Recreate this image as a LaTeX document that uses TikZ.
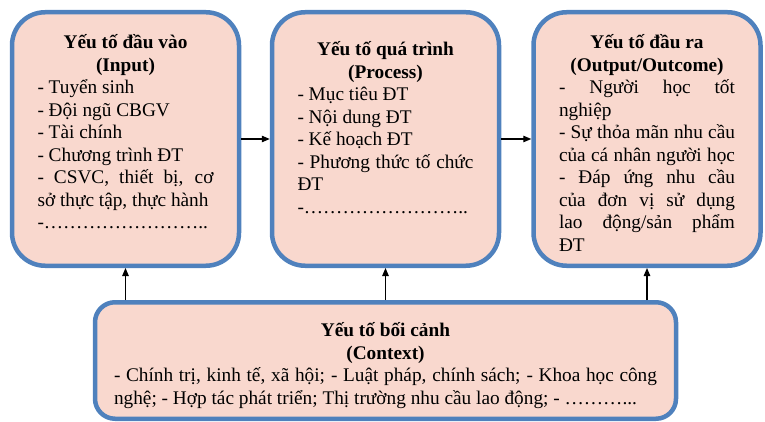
\documentclass[tikz,border=0pt]{standalone}
\usepackage{fontspec}
\setmainfont{Liberation Serif}
\usepackage{tikz}
\usetikzlibrary{arrows.meta}

\definecolor{factorblue}{RGB}{79,129,189}
\definecolor{factorfill}{RGB}{249,216,206}
\newcommand{\spreadline}[1]{\makebox[\linewidth][s]{#1}}
\newcommand{\headline}[1]{\makebox[\linewidth]{\bfseries #1}}
\newcommand{\firstline}{\rule{0pt}{20pt}}

\begin{document}
\begin{tikzpicture}[x=1pt, y=-1pt,
  >={Triangle[length=8pt,width=6.5pt]},
  factor/.style={draw=factorblue, fill=factorfill, line width=4.5pt,
    rounded corners=33pt, inner sep=0pt, minimum width=227pt,
    minimum height=253.5pt, font=\fontsize{19.3}{22.5}\selectfont},
  context/.style={factor, rounded corners=20pt, minimum width=581pt,
    minimum height=116.5pt}]
\useasboundingbox (0,0) rectangle (765,422);

\node[factor] (input) at (125.5,139) {\parbox[c][253.5pt][t]{176pt}{\vspace*{16.75pt}%
\firstline\headline{Yếu tố đầu vào}\\
\headline{(Input)}\\
- Tuyển sinh\\
- Đội ngũ CBGV\\
- Tài chính\\
- Chương trình ĐT\\
\spreadline{- CSVC, thiết bị, cơ}\\
sở thực tập, thực hành\\
-……………………..}};

\node[factor] (process) at (385.5,139) {\parbox[c][253.5pt][t]{176pt}{\vspace*{23.75pt}%
\firstline\headline{Yếu tố quá trình}\\
\headline{(Process)}\\
- Mục tiêu ĐT\\
- Nội dung ĐT\\
- Kế hoạch ĐT\\
\spreadline{- Phương thức tố chức}\\
ĐT\\
-……………………..}};

\node[factor] (output) at (647,139) {\parbox[c][253.5pt][t]{176pt}{\vspace*{16.5pt}%
\firstline\headline{Yếu tố đầu ra}\\
\headline{(Output/Outcome)}\\
\spreadline{- Người học tốt}\\
nghiệp\\
\spreadline{- Sự thỏa mãn nhu cầu}\\
\spreadline{của cá nhân người học}\\
\spreadline{- Đáp ứng nhu cầu}\\
\spreadline{của đơn vị sử dụng}\\
\spreadline{lao động/sản phẩm}\\
ĐT}};

\node[context] (context) at (385.5,360.5) {\parbox[c][116.5pt][t]{543pt}{\vspace*{14.25pt}%
\firstline\headline{Yếu tố bối cảnh}\\
\headline{(Context)}\\
\spreadline{- Chính trị, kinh tế, xã hội; - Luật pháp, chính sách; - Khoa học công}\\
nghệ; - Hợp tác phát triển; Thị trường nhu cầu lao động; - ………...}};

% luong tac dong
\draw[->, line width=1.2pt] (input) -- (process);
\draw[->, line width=1.2pt] (process) -- (output);

\draw[->, line width=1.2pt] (context.north -| input) -- (input.south);
\draw[->, line width=1.2pt] (context.north -| process) -- (process.south);
\draw[->, line width=1.2pt] (context.north -| output) -- (output.south);

\end{tikzpicture}
\end{document}
